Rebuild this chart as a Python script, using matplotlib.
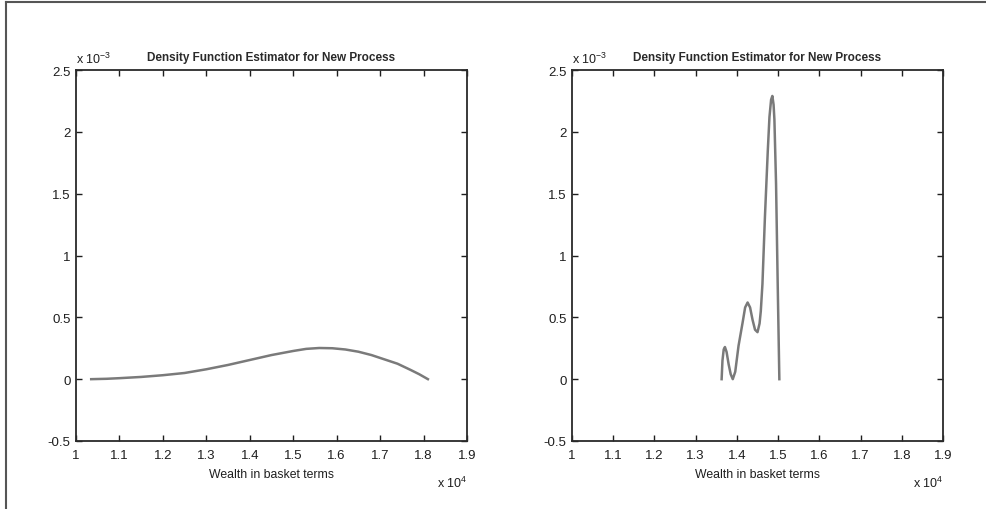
import matplotlib
matplotlib.use("Agg")
import matplotlib.pyplot as plt
from matplotlib.lines import Line2D

# Data (wealth in units of 10^4, density in units of 10^-3)
left_x = [1.035, 1.07, 1.10, 1.15, 1.20, 1.25, 1.30, 1.35, 1.40, 1.45, 1.50, 1.53,
          1.56, 1.59, 1.62, 1.65, 1.68, 1.71, 1.74, 1.77, 1.79, 1.81]
left_y = [0.0, 0.003, 0.008, 0.018, 0.032, 0.050, 0.080, 0.115, 0.155, 0.195, 0.228, 0.245,
          0.252, 0.250, 0.240, 0.222, 0.195, 0.160, 0.125, 0.075, 0.040, 0.0]

right_x = [1.363, 1.365, 1.368, 1.371, 1.375, 1.380, 1.385, 1.390, 1.396, 1.404, 1.414,
           1.420, 1.426, 1.432, 1.438, 1.444, 1.450, 1.455, 1.458, 1.462, 1.468, 1.475,
           1.479, 1.483, 1.486, 1.489, 1.491, 1.495, 1.499, 1.503]
right_y = [0.0, 0.15, 0.24, 0.26, 0.22, 0.12, 0.04, 0.0, 0.06, 0.27, 0.46,
           0.58, 0.62, 0.58, 0.48, 0.40, 0.38, 0.45, 0.55, 0.77, 1.31, 1.85,
           2.12, 2.26, 2.29, 2.22, 2.10, 1.58, 0.77, 0.0]

x_ticks = [1, 1.1, 1.2, 1.3, 1.4, 1.5, 1.6, 1.7, 1.8, 1.9]
x_tick_labels = ["1", "1.1", "1.2", "1.3", "1.4", "1.5", "1.6", "1.7", "1.8", "1.9"]
y_ticks = [-0.5, 0, 0.5, 1, 1.5, 2, 2.5]
y_tick_labels = ["-0.5", "0", "0.5", "1", "1.5", "2", "2.5"]

title = "Density Function Estimator for New Process"
xlabel = "Wealth in basket terms"

plt.rcParams['font.family'] = ['Liberation Sans', 'DejaVu Sans']
plt.rcParams['mathtext.default'] = 'regular'

fig = plt.figure(figsize=(9.87, 5.10), dpi=100)
W, H = 987, 510

axes_px = [(76, 467), (572, 943)]
top_px, bot_px = 71, 442
series = [(left_x, left_y), (right_x, right_y)]

txt = "#1e1e1e"
for (x0, x1), (xs, ys) in zip(axes_px, series):
    ax = fig.add_axes([x0 / W, 1 - bot_px / H, (x1 - x0) / W, (bot_px - top_px) / H])
    ax.plot(xs, ys, color="#7a7a7a", lw=1.8)
    ax.set_xlim(1, 1.9)
    ax.set_ylim(-0.5, 2.5)
    ax.set_xticks(x_ticks)
    ax.set_xticklabels(x_tick_labels)
    ax.set_yticks(y_ticks)
    ax.set_yticklabels(y_tick_labels)
    ax.tick_params(direction="in", length=4, width=1, top=True, right=True,
                   labelsize=9.5, pad=4, colors=txt)
    ax.tick_params(axis="x", pad=6)
    for sp in ax.spines.values():
        sp.set_linewidth(1.3)
        sp.set_color("#2a2a2a")
    ax.set_title(title, fontsize=8.5, fontweight="bold", color="#2a2a2a", pad=7)
    ax.set_xlabel(xlabel, fontsize=8.8, color=txt, labelpad=5)
    ax.text(0.0, 1.01, "x 10$^{-3}$", transform=ax.transAxes, fontsize=9,
            color=txt, ha="left", va="bottom")
    ax.text(1.0, -0.09, "x 10$^{4}$", transform=ax.transAxes, fontsize=9,
            color=txt, ha="right", va="top")

# figure frame lines (top and left)
fig.add_artist(Line2D([6 / W, 6 / W], [0, 1 - 3 / H], transform=fig.transFigure,
                      color="#555555", lw=1.5))
fig.add_artist(Line2D([6 / W, 1], [1 - 3 / H, 1 - 3 / H], transform=fig.transFigure,
                      color="#555555", lw=1.5))

fig.savefig("out.png", dpi=100)
